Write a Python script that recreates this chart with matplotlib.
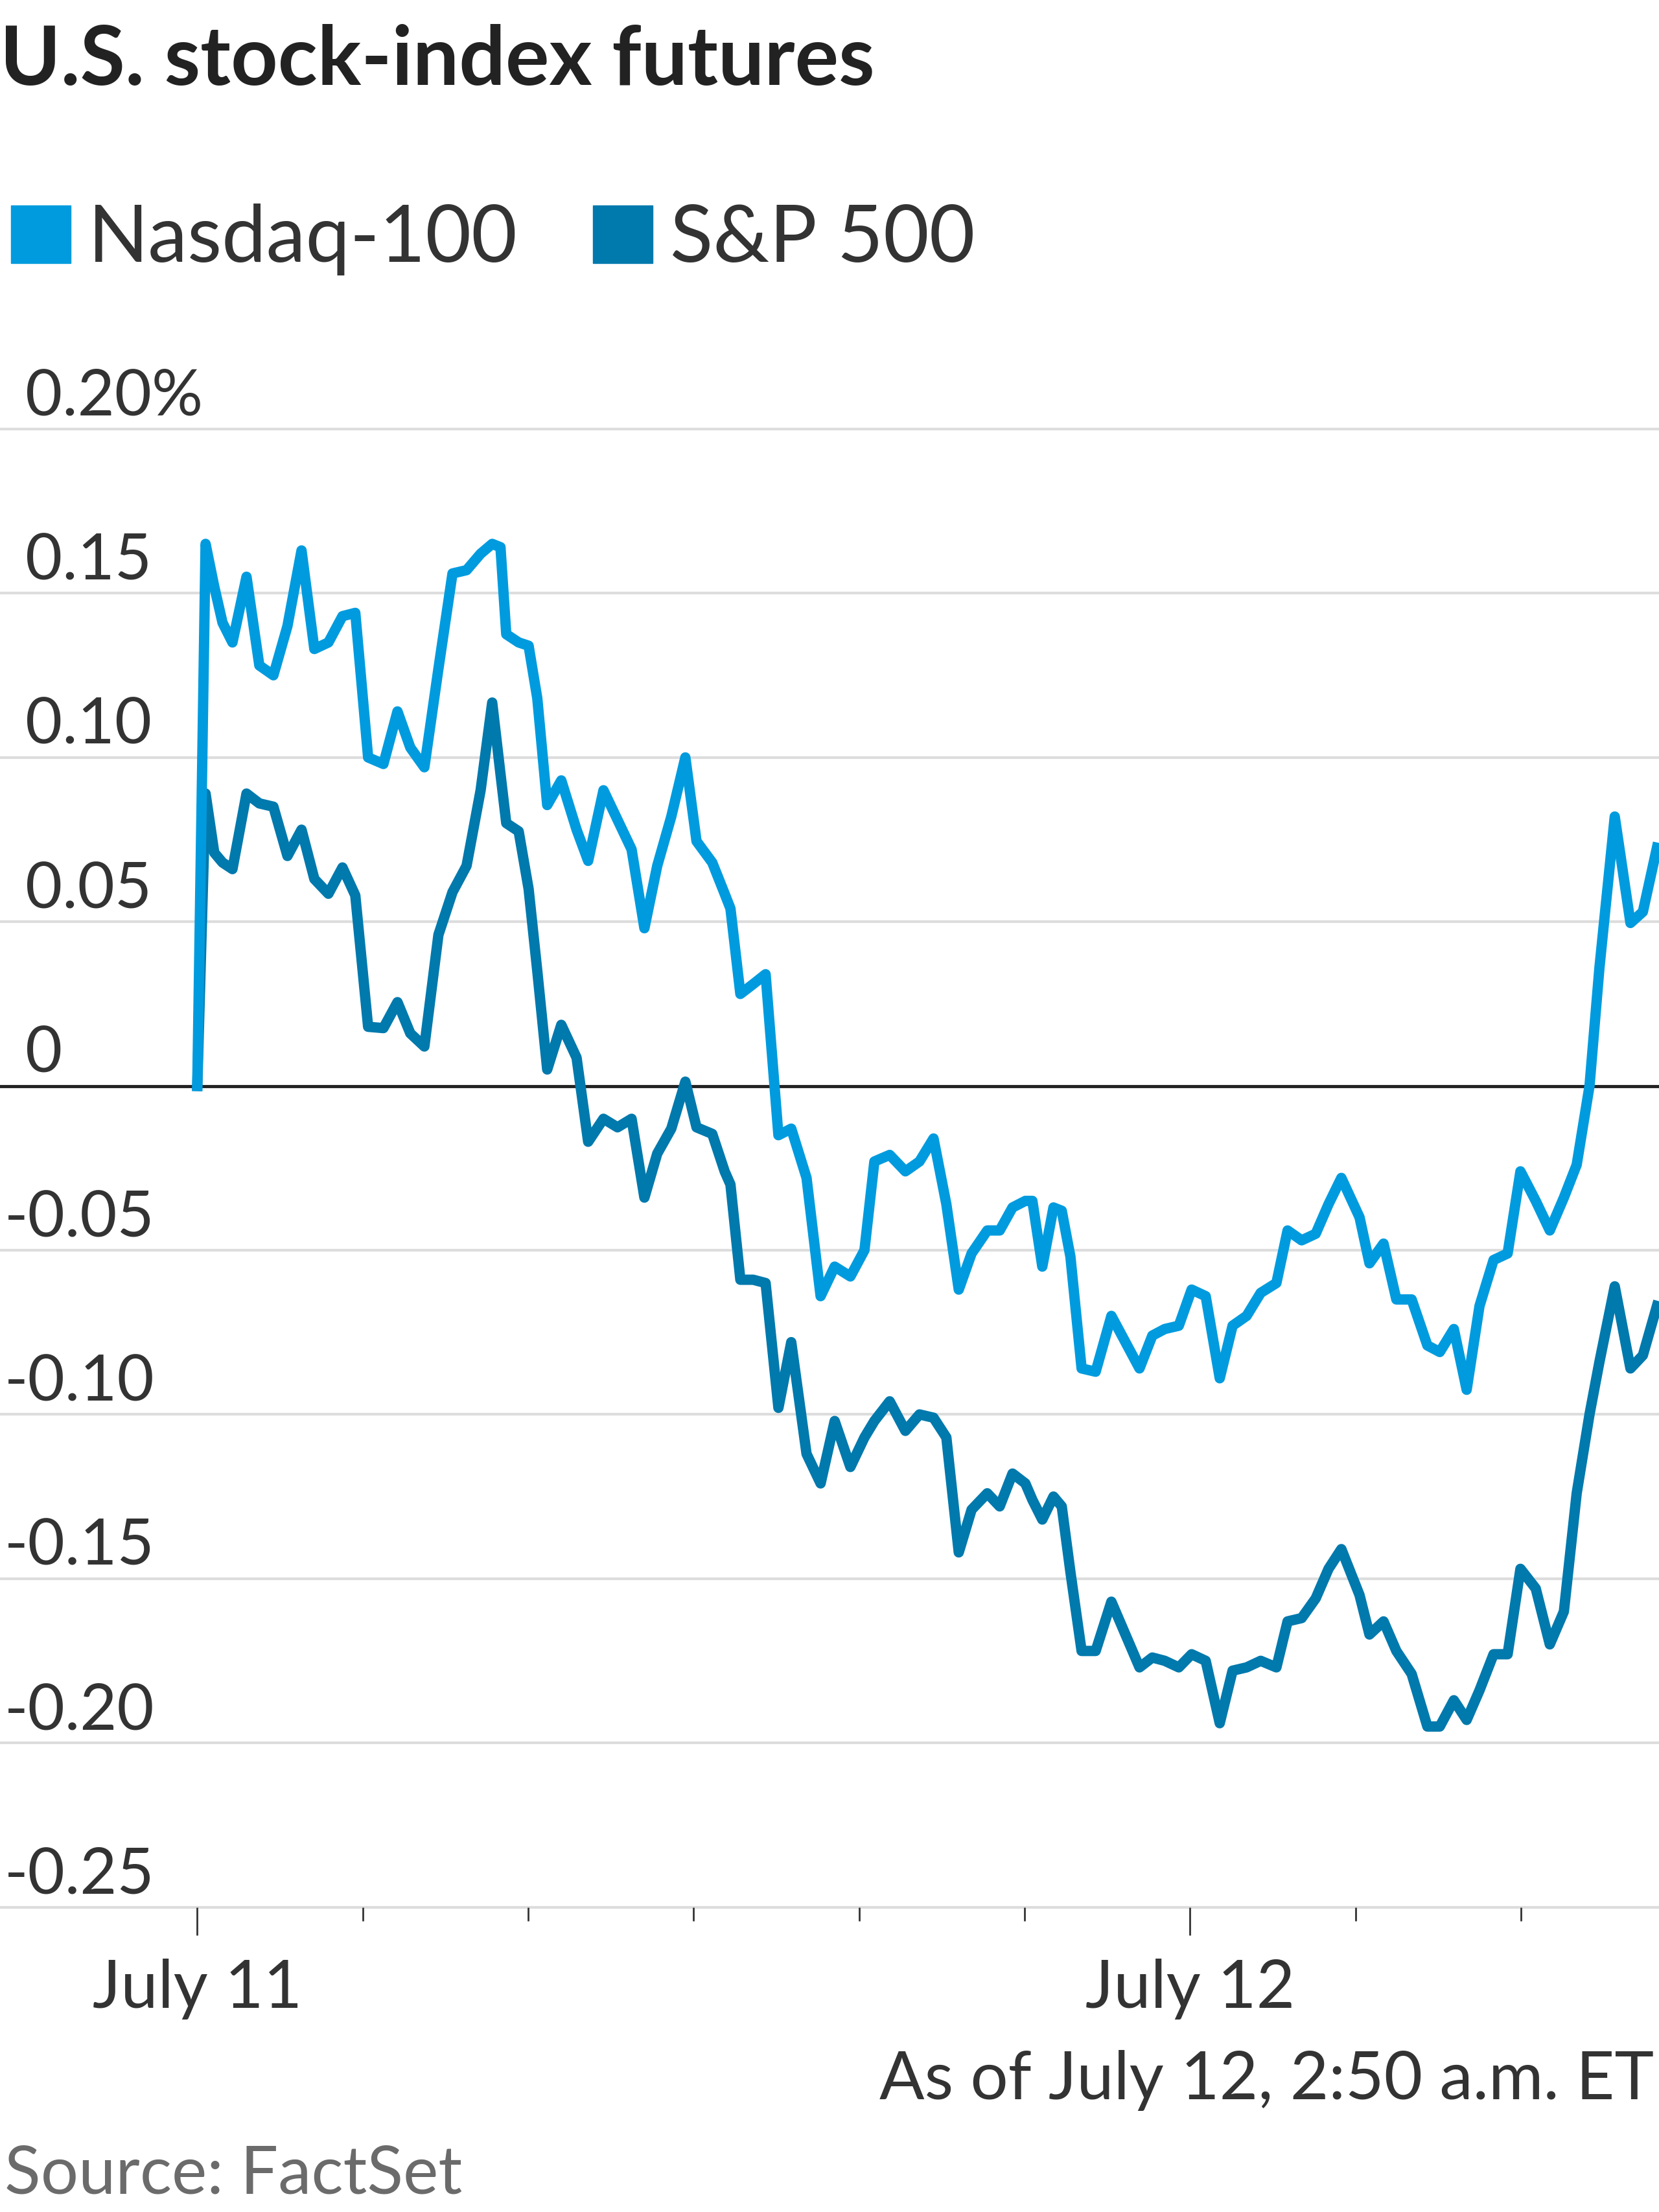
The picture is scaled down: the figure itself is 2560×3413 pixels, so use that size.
import numpy as np
import matplotlib
matplotlib.use("Agg")
import matplotlib.pyplot as plt
from matplotlib.patches import Patch

# time axis in hours after the first print (July 11 tick = 0)
hours = [0.00, 0.20, 0.41, 0.61, 0.85, 1.19, 1.50, 1.84, 2.18, 2.52,
         2.83, 3.17, 3.51, 3.82, 4.13, 4.50, 4.84, 5.15, 5.49, 5.83,
         6.17, 6.51, 6.85, 7.13, 7.33, 7.47, 7.77, 8.01, 8.22, 8.46,
         8.80, 9.17, 9.45, 9.82, 10.16, 10.50, 10.81, 11.12, 11.46, 11.80,
         12.07, 12.45, 12.75, 12.89, 13.13, 13.44, 13.74, 14.05, 14.36, 14.73,
         15.07, 15.41, 15.79, 16.13, 16.37, 16.74, 17.12, 17.46, 17.80, 18.11,
         18.41, 18.72, 19.10, 19.40, 19.71, 20.02, 20.19, 20.43, 20.70, 20.90,
         21.11, 21.38, 21.72, 22.10, 22.44, 22.78, 23.09, 23.39, 23.73, 24.04,
         24.38, 24.72, 25.03, 25.37, 25.71, 26.09, 26.36, 26.70, 27.04, 27.35,
         27.66, 28.10, 28.34, 28.68, 28.99, 29.36, 29.74, 30.04, 30.38, 30.69,
         31.00, 31.34, 31.68, 31.99, 32.36, 32.70, 33.04, 33.35, 33.66, 33.90,
         34.27, 34.65, 34.95, 35.29]

# % change
nasdaq = [0, 0.165, 0.152, 0.141, 0.135, 0.155, 0.128, 0.125, 0.140, 0.163,
          0.133, 0.135, 0.143, 0.144, 0.100, 0.098, 0.114, 0.103, 0.097, 0.127,
          0.156, 0.157, 0.162, 0.165, 0.164, 0.1375, 0.135, 0.134, 0.118, 0.0855,
          0.093, 0.078, 0.0685, 0.090, 0.081, 0.072, 0.048, 0.067, 0.082, 0.100,
          0.0745, 0.068, 0.0585, 0.054, 0.028, 0.031, 0.034, -0.015, -0.013, -0.028,
          -0.064, -0.055, -0.058, -0.050, -0.023, -0.021, -0.026, -0.023, -0.016, -0.036,
          -0.062, -0.051, -0.044, -0.044, -0.037, -0.035, -0.035, -0.055, -0.037, -0.038,
          -0.052, -0.086, -0.087, -0.070, -0.078, -0.086, -0.076, -0.074, -0.073, -0.062,
          -0.064, -0.089, -0.073, -0.070, -0.063, -0.060, -0.044, -0.047, -0.045, -0.036,
          -0.028, -0.040, -0.054, -0.048, -0.065, -0.065, -0.079, -0.081, -0.074, -0.0925,
          -0.067, -0.053, -0.051, -0.026, -0.035, -0.044, -0.034, -0.024, 0.0, 0.036,
          0.082, 0.0496, 0.053, 0.0725]

sp500 = [0, 0.089, 0.071, 0.068, 0.066, 0.089, 0.086, 0.085, 0.070, 0.078,
         0.063, 0.0585, 0.0665, 0.058, 0.018, 0.0176, 0.0255, 0.016, 0.012, 0.046,
         0.059, 0.067, 0.090, 0.1167, 0.095, 0.080, 0.0775, 0.060, 0.035, 0.005,
         0.0186, 0.0086, -0.017, -0.010, -0.0126, -0.010, -0.034, -0.0206, -0.013, 0.0013,
         -0.0126, -0.0146, -0.026, -0.030, -0.059, -0.059, -0.060, -0.098, -0.078, -0.112,
         -0.121, -0.102, -0.116, -0.107, -0.102, -0.096, -0.105, -0.100, -0.101, -0.107,
         -0.142, -0.129, -0.124, -0.128, -0.118, -0.121, -0.126, -0.132, -0.125, -0.128,
         -0.148, -0.172, -0.172, -0.157, -0.167, -0.177, -0.174, -0.175, -0.177, -0.173,
         -0.175, -0.194, -0.178, -0.177, -0.175, -0.177, -0.163, -0.162, -0.156, -0.147,
         -0.141, -0.155, -0.167, -0.163, -0.172, -0.179, -0.195, -0.195, -0.187, -0.193,
         -0.184, -0.173, -0.173, -0.147, -0.153, -0.170, -0.160, -0.124, -0.100, -0.084,
         -0.061, -0.086, -0.082, -0.067]

yticks = [0.20, 0.15, 0.10, 0.05, 0, -0.05, -0.10, -0.15, -0.20, -0.25]
ytick_labels = ['0.20%', '0.15', '0.10', '0.05', '0', '-0.05', '-0.10', '-0.15', '-0.20', '-0.25']
major_ticks = [0, 24]
major_labels = ['July 11', 'July 12']
minor_ticks = [4, 8, 12, 16, 20, 28, 32]

series_names = ['Nasdaq-100', 'S&P 500']
col_nasdaq = '#009bde'
col_sp = '#0079ad'
txt_col = '#333333'

title = 'U.S. stock-index futures'
note = 'As of July 12, 2:50 a.m. ET'
source = 'Source: FactSet'

sans = ['Lato', 'DejaVu Sans']

fig = plt.figure(figsize=(25.6, 34.13), dpi=100)
fig.patch.set_facecolor('white')

ax = fig.add_axes([0, 0.1378, 1, 0.6683])
ax.set_xlim(-4.77, 35.34)
ax.set_ylim(-0.25, 0.20)
for s in ax.spines.values():
    s.set_visible(False)

# gridlines + zero line
for v in yticks:
    if v == 0:
        ax.axhline(v, color='#222222', lw=3.5, zorder=2, clip_on=False)
    else:
        ax.axhline(v, color='#dddddd', lw=3, zorder=1, clip_on=False)

# y labels sit above their gridline, inside the plot
ax.set_yticks([])
for v, lab in zip(yticks, ytick_labels):
    xpos = 0.0026 if lab.startswith('-') else 0.0153
    ax.annotate(lab, xy=(xpos, v), xycoords=('axes fraction', 'data'),
                xytext=(0, 15), textcoords='offset points',
                ha='left', va='baseline', fontsize=71, color=txt_col, family=sans)

ax.plot(hours, sp500, color=col_sp, lw=11.5, zorder=3)
ax.plot(hours, nasdaq, color=col_nasdaq, lw=11.5, zorder=4)

ax.set_xticks(major_ticks)
ax.set_xticklabels(major_labels)
ax.set_xticks(minor_ticks, minor=True)
ax.tick_params(axis='x', which='major', length=31, width=2, color='#333333',
               pad=26, labelsize=74, labelcolor=txt_col)
ax.tick_params(axis='x', which='minor', length=15, width=2, color='#333333')
for lab in ax.get_xticklabels():
    lab.set_family(sans)

# title, legend, notes
fig.text(0.0, 0.9617, title, fontsize=91, fontweight='bold', color='#222222',
         ha='left', va='baseline', family=sans)

handles = [Patch(color=col_nasdaq), Patch(color=col_sp)]
leg = fig.legend(handles, series_names, loc='upper left', bbox_to_anchor=(0.0068, 0.908),
                 ncol=2, frameon=False, fontsize=88, handlelength=0.75, handleheight=0.75,
                 handletextpad=0.22, columnspacing=0.95, borderpad=0, borderaxespad=0)
for t in leg.get_texts():
    t.set_color(txt_col)
    t.set_family(sans)

fig.text(0.997, 0.051, note, fontsize=74, color=txt_col, ha='right', va='baseline', family=sans)
fig.text(0.0026, 0.0083, source, fontsize=74, color='#6b6b6b', ha='left', va='baseline', family=sans)

fig.savefig('out.png', dpi=100, facecolor='white')
